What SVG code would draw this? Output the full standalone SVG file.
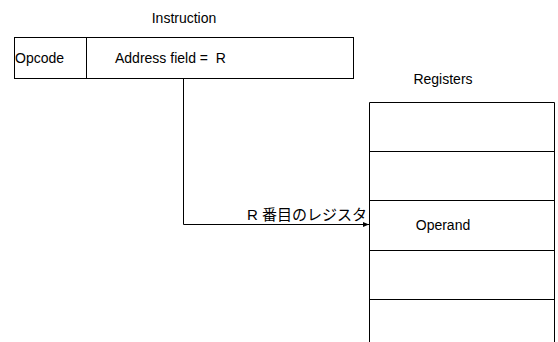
<svg xmlns="http://www.w3.org/2000/svg" width="558" height="342" viewBox="0 0 558 342">
<defs>
<style>
.t{font-family:"Liberation Sans","Noto Sans CJK JP",sans-serif;font-size:14px;fill:#000}
.jp{font-size:15px}
.box{fill:#fff;stroke:#000;stroke-width:1}
.ln{fill:none;stroke:#000;stroke-width:1}
</style>
<marker id="ah" markerWidth="6" markerHeight="6" refX="6" refY="3" orient="auto" markerUnits="userSpaceOnUse">
<path d="M0,0.5 L6,3 L0,5.5 Z" fill="#000"/>
</marker>
</defs>
<rect width="558" height="342" fill="#fff"/>
<text class="t" x="184" y="23" text-anchor="middle">Instruction</text>
<g id="instruction">
<rect class="box" x="14.5" y="37.5" width="339" height="41"/>
<line class="ln" x1="86.5" y1="37.5" x2="86.5" y2="78.5"/>
<text class="t" x="15" y="63">Opcode</text>
<text class="t" x="115" y="63" xml:space="preserve">Address field =  R</text>
</g>
<text class="t" x="443" y="84" text-anchor="middle">Registers</text>
<g id="registers">
<path class="ln" d="M369.5,342 V102.5 H554.5 V342"/>
<line class="ln" x1="369.5" y1="151.5" x2="554.5" y2="151.5"/>
<line class="ln" x1="369.5" y1="200.5" x2="554.5" y2="200.5"/>
<line class="ln" x1="369.5" y1="250.5" x2="554.5" y2="250.5"/>
<line class="ln" x1="369.5" y1="299.5" x2="554.5" y2="299.5"/>
<text class="t" x="443" y="230" text-anchor="middle">Operand</text>
</g>
<g id="connectors">
<path class="ln" d="M183.5,78.5 V224.5 H369" marker-end="url(#ah)"/>
<text class="t jp" x="367" y="220" text-anchor="end">R 番目のレジスタ</text>
</g>
</svg>
